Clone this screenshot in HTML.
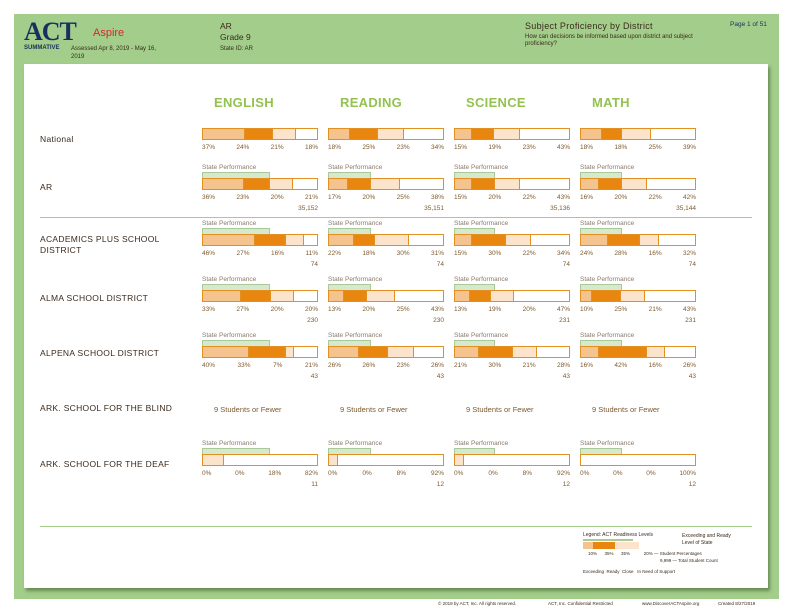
<!DOCTYPE html>
<html><head><meta charset="utf-8">
<style>
*{margin:0;padding:0;box-sizing:border-box}
body{width:792px;height:612px;background:#fff;position:relative;overflow:hidden;font-family:"Liberation Sans",sans-serif;color:#3b2a1c}
.frame{position:absolute;left:14px;top:14px;width:765px;height:585px;background:#a2cd8a}
.panel{position:absolute;left:24px;top:64px;width:744px;height:524px;background:#fff;box-shadow:2px 3px 3px rgba(60,90,40,.55)}
.a{position:absolute;white-space:nowrap}
.hd{font-size:13px;font-weight:bold;color:#93c250;letter-spacing:.3px}
.lb{font-size:8.5px;color:#3b2a1c;letter-spacing:.3px;line-height:11px}
.blk{position:absolute;width:116px}
.sp{font-size:6.5px;color:#8a7a6a;height:8px;line-height:8px}
.g{height:6px;background:#d6e9cc;border:1px solid #a9c99a;border-bottom:none}
.bar{display:flex;height:12px;border:1px solid #e39022;background:#fff}
.bar div{height:100%;border-right:1px solid #e39022}
.bar div:last-child{border-right:none}
.s1{background:#f5c38d}.s2{background:#e8860f}.s3{background:#fbe3cc}.s4{background:#fff}
.p{display:flex;justify-content:space-between;font-size:6.5px;color:#7d5a2e;margin-top:4px;line-height:8px}
.c{text-align:right;font-size:6.5px;color:#7d5a2e;margin-top:3px;line-height:8px}
.few{font-size:7.5px;color:#7d5a2e}
</style></head><body>
<div class="frame"></div>
<div class="panel"></div>
<div class="a" style="left:24px;top:17px;font:bold 26px 'Liberation Serif',serif;color:#1b2f5e;letter-spacing:-1px">ACT</div>
<div class="a" style="left:93px;top:27px;font-size:11px;color:#d8262e">Aspire</div>
<div class="a" style="left:24px;top:45px;font-size:6px;font-weight:bold;color:#1b2f5e">SUMMATIVE</div>
<div class="a" style="left:71px;top:45px;font-size:6px;color:#3b2a1c;line-height:8px">Assessed Apr 8, 2019 - May 16,<br>2019</div>
<div class="a" style="left:220px;top:21px;font-size:8.5px;line-height:11px;color:#3b2a1c">AR<br>Grade 9</div>
<div class="a" style="left:220px;top:46px;font-size:6px;color:#3b2a1c">State ID: AR</div>
<div class="a" style="left:525px;top:21px;font-size:9px;color:#3b2a1c;letter-spacing:.3px">Subject Proficiency by District</div>
<div class="a" style="left:525px;top:34px;font-size:6px;color:#3b2a1c;line-height:7px">How can decisions be informed based upon district and subject<br>proficiency?</div>
<div class="a" style="left:730px;top:21px;font-size:6.5px;color:#1b2f5e">Page 1 of 51</div>

<div class="a hd" style="left:214px;top:95px">ENGLISH</div>
<div class="a hd" style="left:340px;top:95px">READING</div>
<div class="a hd" style="left:466px;top:95px">SCIENCE</div>
<div class="a hd" style="left:592px;top:95px">MATH</div>

<div class="a lb" style="left:40px;top:134px">National</div>
<div class="a lb" style="left:40px;top:182px">AR</div>
<div class="a lb" style="left:40px;top:234px">ACADEMICS PLUS SCHOOL<br>DISTRICT</div>
<div class="a lb" style="left:40px;top:293px">ALMA SCHOOL DISTRICT</div>
<div class="a lb" style="left:40px;top:348px">ALPENA SCHOOL DISTRICT</div>
<div class="a lb" style="left:40px;top:403px">ARK. SCHOOL FOR THE BLIND</div>
<div class="a lb" style="left:40px;top:459px">ARK. SCHOOL FOR THE DEAF</div>

<div class="a" style="left:40px;top:217px;width:712px;height:1px;background:#a2cd8a"></div>
<div class="a" style="left:40px;top:526px;width:712px;height:1px;background:#a2cd8a"></div>

<!-- National -->
<div class="blk" style="left:202px;top:128px"><div class="bar"><div class="s1" style="width:37%"></div><div class="s2" style="width:24%"></div><div class="s3" style="width:21%"></div><div class="s4" style="width:18%"></div></div><div class="p"><span>37%</span><span>24%</span><span>21%</span><span>18%</span></div></div>
<div class="blk" style="left:328px;top:128px"><div class="bar"><div class="s1" style="width:18%"></div><div class="s2" style="width:25%"></div><div class="s3" style="width:23%"></div><div class="s4" style="width:34%"></div></div><div class="p"><span>18%</span><span>25%</span><span>23%</span><span>34%</span></div></div>
<div class="blk" style="left:454px;top:128px"><div class="bar"><div class="s1" style="width:15%"></div><div class="s2" style="width:19%"></div><div class="s3" style="width:23%"></div><div class="s4" style="width:43%"></div></div><div class="p"><span>15%</span><span>19%</span><span>23%</span><span>43%</span></div></div>
<div class="blk" style="left:580px;top:128px"><div class="bar"><div class="s1" style="width:18%"></div><div class="s2" style="width:18%"></div><div class="s3" style="width:25%"></div><div class="s4" style="width:39%"></div></div><div class="p"><span>18%</span><span>18%</span><span>25%</span><span>39%</span></div></div>

<!-- AR -->
<div class="blk" style="left:202px;top:164px"><div class="sp">State Performance</div><div class="g" style="width:59%"></div><div class="bar"><div class="s1" style="width:36%"></div><div class="s2" style="width:23%"></div><div class="s3" style="width:20%"></div><div class="s4" style="width:21%"></div></div><div class="p"><span>36%</span><span>23%</span><span>20%</span><span>21%</span></div><div class="c">35,152</div></div>
<div class="blk" style="left:328px;top:164px"><div class="sp">State Performance</div><div class="g" style="width:37%"></div><div class="bar"><div class="s1" style="width:17%"></div><div class="s2" style="width:20%"></div><div class="s3" style="width:25%"></div><div class="s4" style="width:38%"></div></div><div class="p"><span>17%</span><span>20%</span><span>25%</span><span>38%</span></div><div class="c">35,151</div></div>
<div class="blk" style="left:454px;top:164px"><div class="sp">State Performance</div><div class="g" style="width:35%"></div><div class="bar"><div class="s1" style="width:15%"></div><div class="s2" style="width:20%"></div><div class="s3" style="width:22%"></div><div class="s4" style="width:43%"></div></div><div class="p"><span>15%</span><span>20%</span><span>22%</span><span>43%</span></div><div class="c">35,136</div></div>
<div class="blk" style="left:580px;top:164px"><div class="sp">State Performance</div><div class="g" style="width:36%"></div><div class="bar"><div class="s1" style="width:16%"></div><div class="s2" style="width:20%"></div><div class="s3" style="width:22%"></div><div class="s4" style="width:42%"></div></div><div class="p"><span>16%</span><span>20%</span><span>22%</span><span>42%</span></div><div class="c">35,144</div></div>

<!-- Academics -->
<div class="blk" style="left:202px;top:220px"><div class="sp">State Performance</div><div class="g" style="width:59%"></div><div class="bar"><div class="s1" style="width:46%"></div><div class="s2" style="width:27%"></div><div class="s3" style="width:16%"></div><div class="s4" style="width:11%"></div></div><div class="p"><span>46%</span><span>27%</span><span>16%</span><span>11%</span></div><div class="c">74</div></div>
<div class="blk" style="left:328px;top:220px"><div class="sp">State Performance</div><div class="g" style="width:37%"></div><div class="bar"><div class="s1" style="width:22%"></div><div class="s2" style="width:18%"></div><div class="s3" style="width:30%"></div><div class="s4" style="width:30%"></div></div><div class="p"><span>22%</span><span>18%</span><span>30%</span><span>31%</span></div><div class="c">74</div></div>
<div class="blk" style="left:454px;top:220px"><div class="sp">State Performance</div><div class="g" style="width:35%"></div><div class="bar"><div class="s1" style="width:15%"></div><div class="s2" style="width:30%"></div><div class="s3" style="width:22%"></div><div class="s4" style="width:33%"></div></div><div class="p"><span>15%</span><span>30%</span><span>22%</span><span>34%</span></div><div class="c">74</div></div>
<div class="blk" style="left:580px;top:220px"><div class="sp">State Performance</div><div class="g" style="width:36%"></div><div class="bar"><div class="s1" style="width:24%"></div><div class="s2" style="width:28%"></div><div class="s3" style="width:16%"></div><div class="s4" style="width:32%"></div></div><div class="p"><span>24%</span><span>28%</span><span>16%</span><span>32%</span></div><div class="c">74</div></div>

<!-- Alma -->
<div class="blk" style="left:202px;top:276px"><div class="sp">State Performance</div><div class="g" style="width:59%"></div><div class="bar"><div class="s1" style="width:33%"></div><div class="s2" style="width:27%"></div><div class="s3" style="width:20%"></div><div class="s4" style="width:20%"></div></div><div class="p"><span>33%</span><span>27%</span><span>20%</span><span>20%</span></div><div class="c">230</div></div>
<div class="blk" style="left:328px;top:276px"><div class="sp">State Performance</div><div class="g" style="width:37%"></div><div class="bar"><div class="s1" style="width:13%"></div><div class="s2" style="width:20%"></div><div class="s3" style="width:25%"></div><div class="s4" style="width:42%"></div></div><div class="p"><span>13%</span><span>20%</span><span>25%</span><span>43%</span></div><div class="c">230</div></div>
<div class="blk" style="left:454px;top:276px"><div class="sp">State Performance</div><div class="g" style="width:35%"></div><div class="bar"><div class="s1" style="width:13%"></div><div class="s2" style="width:19%"></div><div class="s3" style="width:20%"></div><div class="s4" style="width:48%"></div></div><div class="p"><span>13%</span><span>19%</span><span>20%</span><span>47%</span></div><div class="c">231</div></div>
<div class="blk" style="left:580px;top:276px"><div class="sp">State Performance</div><div class="g" style="width:36%"></div><div class="bar"><div class="s1" style="width:10%"></div><div class="s2" style="width:25%"></div><div class="s3" style="width:21%"></div><div class="s4" style="width:44%"></div></div><div class="p"><span>10%</span><span>25%</span><span>21%</span><span>43%</span></div><div class="c">231</div></div>

<!-- Alpena -->
<div class="blk" style="left:202px;top:332px"><div class="sp">State Performance</div><div class="g" style="width:59%"></div><div class="bar"><div class="s1" style="width:40%"></div><div class="s2" style="width:33%"></div><div class="s3" style="width:7%"></div><div class="s4" style="width:20%"></div></div><div class="p"><span>40%</span><span>33%</span><span>7%</span><span>21%</span></div><div class="c">43</div></div>
<div class="blk" style="left:328px;top:332px"><div class="sp">State Performance</div><div class="g" style="width:37%"></div><div class="bar"><div class="s1" style="width:26%"></div><div class="s2" style="width:26%"></div><div class="s3" style="width:23%"></div><div class="s4" style="width:25%"></div></div><div class="p"><span>26%</span><span>26%</span><span>23%</span><span>26%</span></div><div class="c">43</div></div>
<div class="blk" style="left:454px;top:332px"><div class="sp">State Performance</div><div class="g" style="width:35%"></div><div class="bar"><div class="s1" style="width:21%"></div><div class="s2" style="width:30%"></div><div class="s3" style="width:21%"></div><div class="s4" style="width:28%"></div></div><div class="p"><span>21%</span><span>30%</span><span>21%</span><span>28%</span></div><div class="c">43</div></div>
<div class="blk" style="left:580px;top:332px"><div class="sp">State Performance</div><div class="g" style="width:36%"></div><div class="bar"><div class="s1" style="width:16%"></div><div class="s2" style="width:42%"></div><div class="s3" style="width:16%"></div><div class="s4" style="width:26%"></div></div><div class="p"><span>16%</span><span>42%</span><span>16%</span><span>26%</span></div><div class="c">43</div></div>

<!-- Blind -->
<div class="a few" style="left:214px;top:405px">9 Students or Fewer</div>
<div class="a few" style="left:340px;top:405px">9 Students or Fewer</div>
<div class="a few" style="left:466px;top:405px">9 Students or Fewer</div>
<div class="a few" style="left:592px;top:405px">9 Students or Fewer</div>

<!-- Deaf -->
<div class="blk" style="left:202px;top:440px"><div class="sp">State Performance</div><div class="g" style="width:59%"></div><div class="bar"><div class="s3" style="width:18%"></div><div class="s4" style="width:82%"></div></div><div class="p"><span>0%</span><span>0%</span><span>18%</span><span>82%</span></div><div class="c">11</div></div>
<div class="blk" style="left:328px;top:440px"><div class="sp">State Performance</div><div class="g" style="width:37%"></div><div class="bar"><div class="s3" style="width:8%"></div><div class="s4" style="width:92%"></div></div><div class="p"><span>0%</span><span>0%</span><span>8%</span><span>92%</span></div><div class="c">12</div></div>
<div class="blk" style="left:454px;top:440px"><div class="sp">State Performance</div><div class="g" style="width:35%"></div><div class="bar"><div class="s3" style="width:8%"></div><div class="s4" style="width:92%"></div></div><div class="p"><span>0%</span><span>0%</span><span>8%</span><span>92%</span></div><div class="c">12</div></div>
<div class="blk" style="left:580px;top:440px"><div class="sp">State Performance</div><div class="g" style="width:36%"></div><div class="bar"><div class="s4" style="width:100%"></div></div><div class="p"><span>0%</span><span>0%</span><span>0%</span><span>100%</span></div><div class="c">12</div></div>

<!-- Legend -->
<div class="a" style="left:583px;top:532px;font-size:5px;color:#3b2a1c">Legend: ACT Readiness Levels</div>
<div class="a" style="left:583px;top:539px;width:50px;height:2px;background:#a9c99a"></div>
<div class="a" style="left:583px;top:542px;width:72px;height:7px;display:flex"><div style="width:10px;background:#f5c38d"></div><div style="width:22px;background:#e8860f"></div><div style="width:24px;background:#fbe3cc"></div><div style="width:16px;background:#fff"></div></div>
<div class="a" style="left:682px;top:533px;font-size:5px;line-height:7px;color:#3b2a1c">Exceeding and Ready<br>Level of State</div>
<div class="a" style="left:588px;top:551px;font-size:4.5px;color:#3b2a1c">10%&nbsp;&nbsp;&nbsp;&nbsp;&nbsp;&nbsp;35%&nbsp;&nbsp;&nbsp;&nbsp;&nbsp;&nbsp;35%&nbsp;&nbsp;&nbsp;&nbsp;&nbsp;&nbsp;&nbsp;&nbsp;&nbsp;&nbsp;&nbsp;20% — Student Percentages</div>
<div class="a" style="left:660px;top:558px;font-size:4.5px;color:#3b2a1c">9,999 — Total Student Count</div>
<div class="a" style="left:583px;top:569px;font-size:4.5px;color:#3b2a1c">Exceeding&nbsp;&nbsp;Ready&nbsp;&nbsp;Close&nbsp;&nbsp;&nbsp;In Need of Support</div>

<!-- Footer -->
<div class="a" style="left:438px;top:601px;font-size:4.5px;color:#3b2a1c">© 2019 by ACT, Inc. All rights reserved.</div>
<div class="a" style="left:548px;top:601px;font-size:4.5px;color:#3b2a1c">ACT, Inc. Confidential Restricted</div>
<div class="a" style="left:642px;top:601px;font-size:4.5px;color:#3b2a1c">www.DiscoverACTAspire.org</div>
<div class="a" style="left:718px;top:601px;font-size:4.5px;color:#3b2a1c">Created 8/27/2019</div>
</body></html>
